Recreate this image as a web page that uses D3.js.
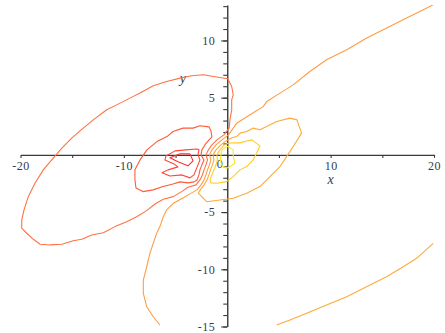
<!DOCTYPE html>
<html>
<head>
<meta charset="utf-8">
<script src="https://cdn.jsdelivr.net/npm/d3@7/dist/d3.min.js"></script>
<style>
  html, body { margin: 0; padding: 0; background: #fff; }
  svg { display: block; }
  .tick text { font-family: "Liberation Serif", "DejaVu Serif", serif; font-size: 12px; fill: #343a4e; letter-spacing: 0.5px; }
  .axis path, .axis line { stroke: #3a3a3a; }
</style>
</head>
<body>
<svg id="chart" width="445" height="333"></svg>
<script>
// Axis ticks and labels
const xTickValues = [-20, -15, -10, -5, 0, 5, 10, 15, 20];
const xTickLabels = [-20, -10, 10, 20];
const yMinorTicks = [-15, -14, -13, -12, -11, -10, -9, -8, -7, -6, -5, -4, -3, -2, -1, 0,
                     1, 2, 3, 4, 5, 6, 7, 8, 9, 10, 11, 12, 13];
const yTickLabels = [-15, -10, -5, 5, 10];

// Contour lines, one array of [x, y] points per curve, ordered from the
// highest level (red, left of the origin) down to the lowest (yellow).
const contourLevel1 = [[-3.61,0.09],[-4.57,0.09],[-5.54,-0.26],[-4.77,-0.61],[-3.80,-0.96],[-3.31,-0.52]];

const contourLevel2 = [[-2.93,0.52],[-4.0,0.44],[-5.05,0.35],[-5.93,-0.09],[-6.02,-0.44],[-5.15,-0.79],
  [-4.77,-1.05],[-5.73,-1.31],[-6.31,-1.57],[-5.54,-1.84],[-4.38,-1.75],[-3.61,-2.01],[-3.22,-1.75],
  [-3.03,-1.31],[-2.83,-0.87],[-2.64,-0.44],[-2.83,0],[-2.74,0.44]];

const contourLevel3 = [[-1.48,1.57],[-1.58,2.1],[-1.77,2.45],[-2.64,2.54],[-3.31,2.34],[-4.28,2.34],
  [-5.25,2.04],[-5.83,1.6],[-6.8,1.16],[-7.77,0.44],[-8.44,-0.44],[-8.93,-1.31],[-8.93,-2.19],
  [-8.83,-2.89],[-8.15,-3.21],[-7.18,-3.06],[-6.21,-2.77],[-5.25,-2.54],[-4.57,-2.36],[-3.8,-2.45],
  [-3.22,-2.36],[-2.93,-2.19],[-2.74,-1.75],[-2.64,-1.31],[-2.45,-0.87],[-2.25,-0.44],[-2.54,0],
  [-2.45,0.44],[-2.16,0.87],[-1.77,1.31]];

const contourLevel4 = [[0.04,6.65],[-1.03,6.8],[-2.32,7.0],[-3.44,6.91],[-4.57,6.71],[-5.86,6.41],
  [-7.16,6.04],[-8.44,5.4],[-9.41,4.96],[-10.7,4.37],[-11.66,3.94],[-12.96,3.06],[-13.93,2.34],
  [-15.05,1.46],[-16.0,0.59],[-16.83,-0.29],[-17.8,-1.31],[-18.6,-2.48],[-19.25,-3.65],[-19.66,-4.81],
  [-19.88,-5.69],[-19.88,-6.41],[-19.4,-6.85],[-18.76,-7.38],[-18.1,-7.81],[-17.15,-7.87],[-16.0,-7.81],
  [-14.89,-7.5],[-14.08,-7.38],[-13.11,-7.0],[-11.99,-6.8],[-10.86,-6.27],[-9.73,-5.84],[-8.76,-5.4],
  [-7.8,-4.87],[-6.99,-4.29],[-6.19,-3.88],[-5.22,-3.65],[-4.41,-3.21],[-3.8,-2.83],[-3.03,-2.62],
  [-2.64,-2.19],[-2.4,-1.75],[-2.25,-1.31],[-2.06,-0.87],[-1.91,-0.44],[-2.06,0],[-1.82,0.44],
  [-1.48,0.87],[-1.0,1.31],[-0.32,1.75],[-0.03,2.1],[0.19,2.36],[0.26,3.06],[0.43,3.94],[0.43,4.81],
  [0.58,5.25],[0.43,5.98]];

const contourLevel5 = [[19.92,13.12],[18.63,12.54],[17.35,11.96],[15.42,11.08],[13.49,10.21],[11.56,9.19],
  [9.61,8.31],[7.99,7.29],[6.38,6.12],[5.1,5.4],[3.82,4.66],[3.48,4.22],[2.2,3.5],[0.91,2.77],[0.58,2.34],
  [0.12,1.75],[-0.51,1.31],[-1.09,0.87],[-1.48,0.44],[-1.72,0],[-1.58,-0.44],[-1.72,-0.87],[-1.91,-1.31],
  [-2.06,-1.75],[-2.25,-2.19],[-2.54,-2.62],[-2.93,-3.06],[-3.61,-3.41],[-4.28,-3.76],[-5.22,-4.23],
  [-5.86,-4.81],[-6.19,-5.4],[-6.51,-6.27],[-6.83,-6.85],[-7.16,-7.73],[-7.48,-8.6],[-7.79,-9.77],
  [-8.12,-10.94],[-8.12,-12.1],[-7.79,-13.27],[-7.16,-14.15],[-6.51,-14.87]];

const contourLevel6 = [[6.06,3.21],[6.74,3.06],[7.19,1.9],[6.38,0.73],[5.74,-0.15],[5.1,-1.02],[4.13,-1.9],
  [3.16,-2.77],[1.88,-3.35],[0.58,-3.79],[-0.71,-3.94],[-1.99,-4.09],[-2.8,-3.35],[-2.54,-2.97],
  [-2.25,-2.62],[-1.96,-2.19],[-1.77,-1.75],[-1.62,-1.31],[-1.43,-0.87],[-1.29,-0.44],[-1.38,0],
  [-1.09,0.44],[-0.61,0.87],[-0.13,1.22],[0.45,1.49],[0.91,1.6],[1.23,1.9],[1.88,2.04],[2.51,2.34],
  [3.16,2.19],[3.81,2.48],[4.78,2.91]];

const contourLevel6Far = [[4.78,-14.87],[6.06,-14.44],[7.68,-13.85],[9.61,-13.12],[11.55,-12.4],
  [13.48,-11.52],[15.41,-10.65],[17.02,-9.77],[18.32,-9.04],[19.92,-7.73]];

const contourLevel7 = [[-1.67,-2.19],[-1.48,-1.75],[-1.29,-1.31],[-1.09,-0.87],[-0.95,-0.44],[-1.0,0],
  [-0.71,0.44],[-0.32,0.83],[0.07,1.01],[0.55,1.05],[1.23,1.05],[1.88,1.22],[2.39,1.31],[3.16,0.79],
  [2.84,0.15],[2.51,-0.44],[1.88,-1.02],[1.23,-1.31],[0.58,-1.9],[-0.06,-2.34],[-1.03,-2.48],[-1.58,-2.45]];

const contourLevel8 = [[-0.61,0],[-0.51,0.44],[-0.22,0.66],[0.1,0.73],[0.58,0.44],[0.58,-0.15],
  [0.74,-0.73],[0.26,-1.02],[-0.06,-1.16],[-0.51,-0.96],[-0.66,-0.44]];

// Stroke colour for each contour level (red -> yellow)
const levelColors = ["#ff3030", "#ff4535", "#ff5b3a", "#ff7243", "#ff9c44", "#ffaa36", "#ffcb24", "#ffe714"];

const curves = [
  { points: contourLevel1, level: 0, closed: true },
  { points: contourLevel2, level: 1, closed: true },
  { points: contourLevel3, level: 2, closed: true },
  { points: contourLevel4, level: 3, closed: true },
  { points: contourLevel5, level: 4, closed: false },
  { points: contourLevel6, level: 5, closed: true },
  { points: contourLevel6Far, level: 5, closed: false },
  { points: contourLevel7, level: 6, closed: true },
  { points: contourLevel8, level: 7, closed: true }
];

const svg = d3.select("#chart");
const x = d3.scaleLinear().domain([-20, 20]).range([20.5, 434]);
const y = d3.scaleLinear().domain([-15, 13.1]).range([326.5, 5]);

svg.append("defs").append("clipPath").attr("id", "plot-clip")
  .append("rect")
  .attr("x", x(-20)).attr("y", y(13.1))
  .attr("width", x(20) - x(-20)).attr("height", y(-15) - y(13.1));

// Axes through the origin
const xAxis = d3.axisBottom(x)
  .tickValues(xTickValues)
  .tickSize(3)
  .tickSizeOuter(0)
  .tickPadding(4)
  .tickFormat(d => xTickLabels.includes(d) ? String(d) : "");

svg.append("g").attr("class", "axis")
  .attr("transform", `translate(0,${y(0)})`)
  .call(xAxis)
  .call(g => g.select(".domain").attr("stroke-width", 1.4))
  .call(g => g.selectAll(".tick line").attr("stroke-width", 1.1));

const yMinorAxis = d3.axisLeft(y)
  .tickValues(yMinorTicks)
  .tickSize(4)
  .tickSizeOuter(0)
  .tickFormat("");

svg.append("g").attr("class", "axis")
  .attr("transform", `translate(${x(0)},0)`)
  .call(yMinorAxis)
  .call(g => g.select(".domain").attr("stroke-width", 1.4))
  .call(g => g.selectAll(".tick line").attr("stroke-width", 1.1));

const yMajorAxis = d3.axisLeft(y)
  .tickValues(yTickLabels)
  .tickSize(6)
  .tickSizeOuter(0)
  .tickPadding(6)
  .tickFormat(d => String(d));

svg.append("g").attr("class", "axis")
  .attr("transform", `translate(${x(0)},0)`)
  .call(yMajorAxis)
  .call(g => g.select(".domain").remove())
  .call(g => g.selectAll(".tick line").attr("stroke-width", 1.1));

// Origin label sits in the lower-left quadrant
svg.append("text")
  .attr("x", x(0) - 7.5).attr("y", y(0) + 13.5)
  .attr("text-anchor", "middle")
  .style("font-family", '"Liberation Serif", serif')
  .style("font-size", "12px")
  .style("fill", "#343a4e")
  .text("0");

// Axis names
svg.append("text")
  .attr("x", x(10)).attr("y", y(0) + 29)
  .attr("text-anchor", "middle")
  .style("font-family", '"Liberation Serif", serif')
  .style("font-style", "italic")
  .style("font-size", "14px")
  .style("fill", "#343a4e")
  .text("x");

svg.append("text")
  .attr("x", x(-4.3)).attr("y", y(6.3))
  .attr("text-anchor", "middle")
  .style("font-family", '"Liberation Serif", serif')
  .style("font-style", "italic")
  .style("font-size", "14px")
  .style("fill", "#343a4e")
  .text("y");

// Contour lines
const lineOpen = d3.line().x(d => x(d[0])).y(d => y(d[1])).curve(d3.curveLinear);
const lineClosed = d3.line().x(d => x(d[0])).y(d => y(d[1])).curve(d3.curveLinearClosed);

svg.append("g")
  .attr("clip-path", "url(#plot-clip)")
  .selectAll("path")
  .data(curves)
  .join("path")
  .attr("d", c => (c.closed ? lineClosed : lineOpen)(c.points))
  .attr("fill", "none")
  .attr("stroke", c => levelColors[c.level])
  .attr("stroke-width", 1.1)
  .attr("stroke-linejoin", "round");
</script>
</body>
</html>
